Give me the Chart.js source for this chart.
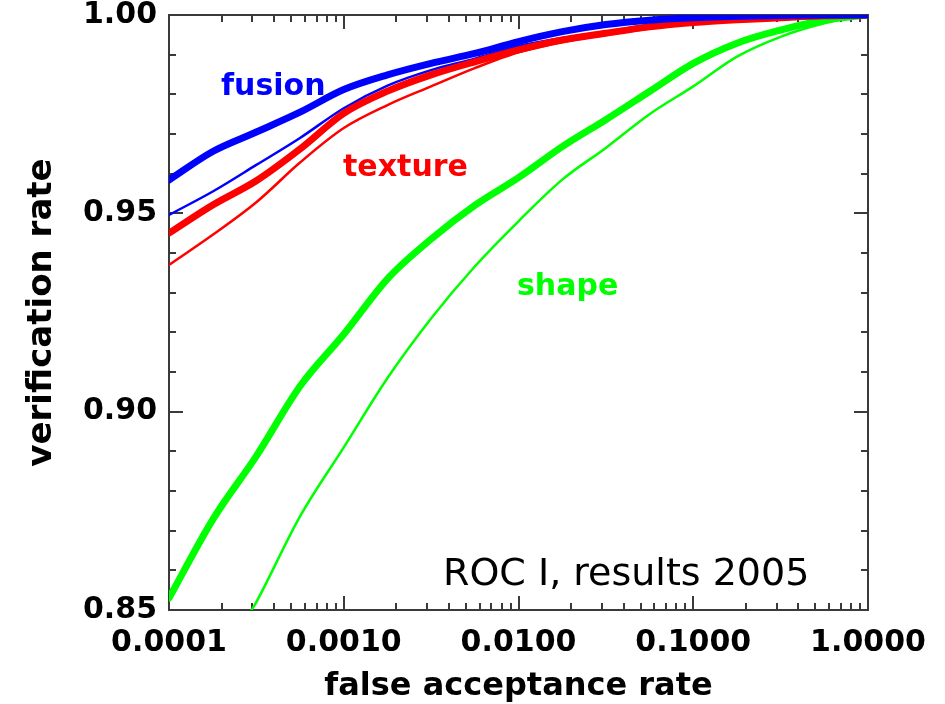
<!DOCTYPE html>
<html>
<head>
<meta charset="utf-8">
<script src="https://cdn.jsdelivr.net/npm/chart.js@4.4.1/dist/chart.umd.min.js"></script>
<style>
html,body{margin:0;padding:0;background:#fff;}
canvas{display:block;}
</style>
</head>
<body>
<canvas id="c" width="945" height="704"></canvas>
<script>
// ---- data ----
const farGrid = [0.0001, 0.000178, 0.000316, 0.000562, 0.001, 0.00178, 0.00316, 0.00562, 0.01, 0.0178, 0.0316, 0.0562, 0.1, 0.178, 0.316, 0.562, 1.0];
const fusionBest  = [0.9584, 0.9656, 0.9705, 0.9755, 0.9812, 0.9849, 0.9878, 0.9903, 0.9933, 0.9958, 0.9976, 0.9987, 0.9993, 0.9997, 0.9999, 1.0, 1.0];
const fusionOther = [0.9496, 0.9555, 0.9622, 0.9690, 0.9765, 0.9822, 0.9861, 0.9890, 0.9922, 0.9942, 0.9958, 0.9975, 0.9987, 0.9994, 0.9998, 1.0, 1.0];
const textureBest = [0.9450, 0.9521, 0.9582, 0.9662, 0.9752, 0.9808, 0.9849, 0.9882, 0.9912, 0.9937, 0.9954, 0.9970, 0.9981, 0.9988, 0.9993, 0.9998, 1.0];
const textureOther= [0.9370, 0.9446, 0.9528, 0.9628, 0.9715, 0.9773, 0.9820, 0.9866, 0.9906, 0.9932, 0.9950, 0.9966, 0.9980, 0.9988, 0.9994, 0.9998, 1.0];
const shapeBest   = [0.8530, 0.8728, 0.8888, 0.9064, 0.9195, 0.9335, 0.9435, 0.9520, 0.9590, 0.9668, 0.9736, 0.9807, 0.9878, 0.9929, 0.9962, 0.9987, 1.0];
const shapeOtherFar = [0.000297, 0.000316, 0.000562, 0.001, 0.00178, 0.00316, 0.00562, 0.01, 0.0178, 0.0316, 0.0562, 0.1, 0.178, 0.316, 0.562, 1.0];
const shapeOther  = [0.8500, 0.8520, 0.8736, 0.8910, 0.9085, 0.9235, 0.9366, 0.9480, 0.9585, 0.9665, 0.9750, 0.9820, 0.9895, 0.9945, 0.9979, 1.0];
const xTickValues = [0.0001, 0.001, 0.01, 0.1, 1.0];
const yRange = [0.85, 1.00];
const curveLabels = ['fusion', 'texture', 'shape'];
const caption = 'ROC I, results 2005';
const xTitle = 'false acceptance rate';
const yTitle = 'verification rate';

const BLUE = '#0000ff', RED = '#ff0000', GREEN = '#00ff00';
const AXIS = '#3a3a3a';

function pts(xs, ys){ return xs.map((x,i)=>({x:x, y:ys[i]})); }

function ds(label, xs, ys, color, width, order){
  return {
    label: label, data: pts(xs, ys), borderColor: color, backgroundColor: color,
    borderWidth: width, pointRadius: 0, fill: false, order: order,
    cubicInterpolationMode: 'monotone', borderCapStyle: 'round', borderJoinStyle: 'round'
  };
}

function isDecade(v){ const l = Math.log10(v); return Math.abs(l - Math.round(l)) < 1e-9; }
function isMajorY(v){ return Math.abs(v*20 - Math.round(v*20)) < 1e-6; }

const boxPlugin = {
  id: 'box',
  beforeDatasetsDraw(chart){
    const {ctx, chartArea: a, scales: {x, y}} = chart;
    ctx.save();
    ctx.strokeStyle = AXIS; ctx.lineWidth = 2; ctx.lineCap = 'butt';
    ctx.strokeRect(a.left, a.top, a.right - a.left, a.bottom - a.top);
    ctx.beginPath();
    x.ticks.forEach(t => {
      const px = Math.round(x.getPixelForValue(t.value));
      const len = isDecade(t.value) ? 14 : 7;
      ctx.moveTo(px, a.bottom); ctx.lineTo(px, a.bottom - len);
      ctx.moveTo(px, a.top); ctx.lineTo(px, a.top + len);
    });
    y.ticks.forEach(t => {
      const py = Math.round(y.getPixelForValue(t.value));
      const len = isMajorY(t.value) ? 14 : 7;
      ctx.moveTo(a.left, py); ctx.lineTo(a.left + len, py);
      ctx.moveTo(a.right, py); ctx.lineTo(a.right - len, py);
    });
    ctx.stroke();
    ctx.restore();
  },
  afterDraw(chart){
    const {ctx} = chart;
    ctx.save();
    ctx.textAlign = 'left'; ctx.textBaseline = 'alphabetic';
    ctx.font = 'bold 30px "DejaVu Sans"';
    ctx.fillStyle = BLUE;  ctx.fillText(curveLabels[0], 221, 95);
    ctx.fillStyle = RED;   ctx.fillText(curveLabels[1], 343, 176);
    ctx.fillStyle = GREEN; ctx.fillText(curveLabels[2], 517, 295);
    ctx.font = '38px "DejaVu Sans"';
    ctx.fillStyle = '#000';
    ctx.fillText(caption, 443, 585);
    ctx.restore();
  }
};

const xTicksAll = [];
for (let e = -4; e < 0; e++) for (let m = 1; m <= 9; m++) xTicksAll.push(+(m * Math.pow(10, e)).toPrecision(6));
xTicksAll.push(1);

new Chart(document.getElementById('c'), {
  type: 'line',
  data: {
    datasets: [
      ds('fusion', farGrid, fusionBest, BLUE, 7, 0),
      ds('texture', farGrid, textureBest, RED, 7, 1),
      ds('fusion (2)', farGrid, fusionOther, BLUE, 2.5, 2),
      ds('texture (2)', farGrid, textureOther, RED, 2.5, 3),
      ds('shape', farGrid, shapeBest, GREEN, 7, 4),
      ds('shape (2)', shapeOtherFar, shapeOther, GREEN, 2.5, 5)
    ]
  },
  options: {
    responsive: false, animation: false,
    layout: { padding: { top: 15, right: 77, left: 0, bottom: 0 } },
    plugins: { legend: { display: false }, tooltip: { enabled: false } },
    scales: {
      x: {
        type: 'logarithmic', min: xTickValues[0], max: xTickValues[xTickValues.length-1],
        grid: { display: false, drawTicks: false }, border: { display: false },
        afterBuildTicks(s){ s.ticks = xTicksAll.map(v => ({ value: v })); },
        afterFit(s){ s.height = 94; s.paddingLeft = 0; s.paddingRight = 0; },
        ticks: {
          autoSkip: false, maxRotation: 0, minRotation: 0, padding: 15, color: '#000',
          font: { family: 'DejaVu Sans', weight: 'bold', size: 30 },
          callback(v){ return xTickValues.some(t => Math.abs(t - v) < 1e-12) ? Number(v).toFixed(4) : ''; }
        },
        title: { display: true, text: xTitle, color: '#000', padding: { top: 0, bottom: 1 },
                 font: { family: 'DejaVu Sans', weight: 'bold', size: 32, lineHeight: 1 } }
      },
      y: {
        type: 'linear', min: yRange[0], max: yRange[1],
        grid: { display: false, drawTicks: false }, border: { display: false },
        afterFit(s){ s.width = 169; s.paddingTop = 0; s.paddingBottom = 0; },
        ticks: {
          stepSize: 0.01, autoSkip: false, padding: 12, color: '#000',
          font: { family: 'DejaVu Sans', weight: 'bold', size: 30 },
          callback(v){ return isMajorY(v) ? Number(v).toFixed(2) : ''; }
        },
        title: { display: true, text: yTitle, color: '#000', padding: { top: 25, bottom: 0 },
                 font: { family: 'DejaVu Sans', weight: 'bold', size: 34, lineHeight: 1 } }
      }
    }
  },
  plugins: [boxPlugin]
});
</script>
</body>
</html>
